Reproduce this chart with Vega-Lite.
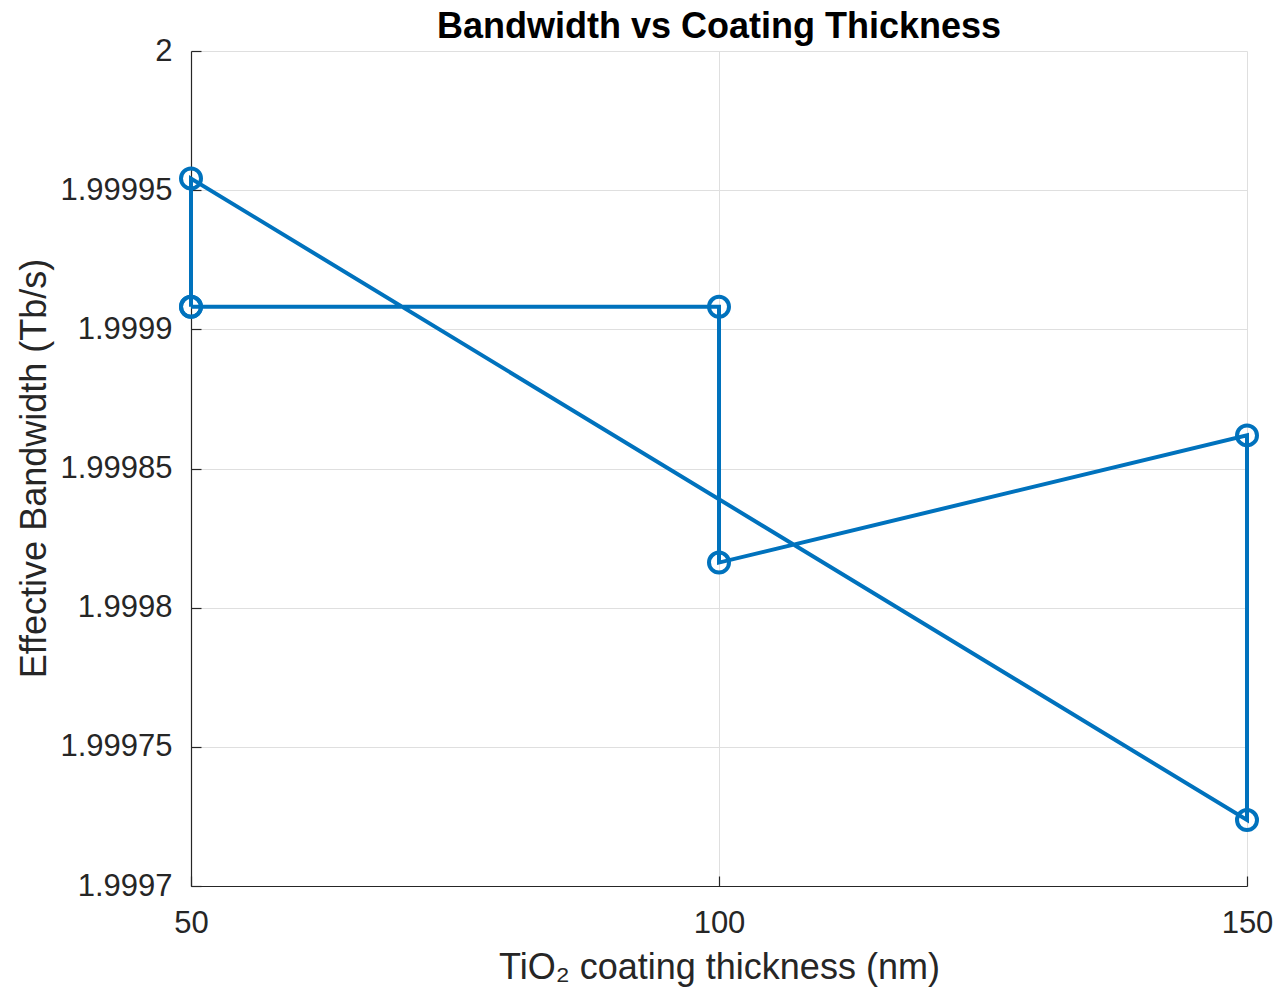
{
  "$schema": "https://vega.github.io/schema/vega-lite/v6.json",
  "width": 1056,
  "height": 835,
  "autosize": {"type": "none"},
  "padding": {"left": 191, "top": 51, "right": 39, "bottom": 113},
  "background": "white",
  "title": {
    "text": "Bandwidth vs Coating Thickness",
    "font": "Liberation Sans",
    "fontSize": 36,
    "fontWeight": "bold",
    "color": "#000000",
    "anchor": "middle",
    "frame": "group",
    "offset": -11
  },
  "config": {
    "view": {"stroke": null},
    "axis": {
      "labelFont": "Liberation Sans",
      "titleFont": "Liberation Sans",
      "labelColor": "#262626",
      "titleColor": "#262626",
      "domainColor": "#262626",
      "tickColor": "#262626",
      "gridColor": "#dfdfdf",
      "gridWidth": 1,
      "domainWidth": 1.2,
      "tickWidth": 1.2,
      "tickSize": -10,
      "labelFontSize": 31,
      "titleFontSize": 36,
      "titleFontWeight": "normal"
    }
  },
  "data": {
    "values": [
      {"order": 1, "thickness": 50, "bandwidth": 1.9999081},
      {"order": 2, "thickness": 100, "bandwidth": 1.9999081},
      {"order": 3, "thickness": 100, "bandwidth": 1.9998162},
      {"order": 4, "thickness": 150, "bandwidth": 1.9998619},
      {"order": 5, "thickness": 150, "bandwidth": 1.9997237},
      {"order": 6, "thickness": 50, "bandwidth": 1.9999542},
      {"order": 7, "thickness": 50, "bandwidth": 1.9999081}
    ]
  },
  "encoding": {
    "x": {
      "field": "thickness",
      "type": "quantitative",
      "scale": {"domain": [50, 150], "nice": false, "zero": false},
      "axis": {
        "values": [50, 100, 150],
        "grid": true,
        "labelPadding": 32,
        "labelFlush": false,
        "title": "TiO₂ coating thickness (nm)",
        "titleX": 528,
        "titleY": 92,
        "titleAlign": "center",
        "titleBaseline": "alphabetic",
        "titleAnchor": null
      }
    },
    "y": {
      "field": "bandwidth",
      "type": "quantitative",
      "scale": {"domain": [1.9997, 2.0], "nice": false, "zero": false},
      "axis": {
        "values": [1.9997, 1.99975, 1.9998, 1.99985, 1.9999, 1.99995, 2.0],
        "labelExpr": "format(datum.value, '.5~f')",
        "grid": true,
        "labelPadding": 29,
        "labelFlush": false,
        "title": "Effective Bandwidth (Tb/s)",
        "titleAngle": -90,
        "titleX": -146,
        "titleY": 417,
        "titleAlign": "center",
        "titleBaseline": "alphabetic"
      }
    }
  },
  "layer": [
    {
      "mark": {"type": "line", "color": "#0072BD", "strokeWidth": 4},
      "encoding": {"order": {"field": "order", "type": "quantitative"}}
    },
    {
      "mark": {"type": "point", "shape": "circle", "filled": false, "color": "#0072BD", "strokeWidth": 4, "size": 400, "opacity": 1}
    }
  ]
}
